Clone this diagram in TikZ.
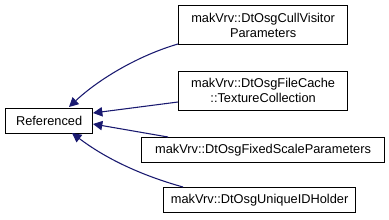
\documentclass[tikz,border=0pt]{standalone}
\usepackage{fontspec}
\setmainfont{Liberation Sans}
\usetikzlibrary{arrows.meta}
\definecolor{edgeblue}{HTML}{191970}
\begin{document}
\begin{tikzpicture}[x=0.75pt,y=-0.75pt,
  box/.style={draw=black,line width=0.9pt,fill=white,inner sep=0pt,align=center,font=\fontsize{9.6}{11.2}\selectfont},
  edge/.style={draw=edgeblue,line width=0.8pt,-{Triangle[length=7pt,width=7pt]}}]
\useasboundingbox (0,0) rectangle (389,219);
\fill[white] (0,0) rectangle (389,219);
\node[box,anchor=north west,minimum height=25*0.75pt,text width=87*0.75pt] (ref) at (5,107.5) {Referenced};
\node[box,anchor=north west,minimum height=39*0.75pt,text width=169*0.75pt] (a) at (178,5) {makVrv::DtOsgCullVisitor\\Parameters};
\node[box,anchor=north west,minimum height=39*0.75pt,text width=169*0.75pt] (b) at (178,70.5) {makVrv::DtOsgFileCache\\::TextureCollection};
\node[box,anchor=north west,minimum height=25*0.75pt,text width=243*0.75pt] (c) at (141,137) {makVrv::DtOsgFixedScaleParameters};
\node[box,anchor=north west,minimum height=25*0.75pt,text width=192*0.75pt] (d) at (163,187) {makVrv::DtOsgUniqueIDHolder};
\coordinate (a1) at (178,44);
\coordinate (b1) at (178,102);
\coordinate (c1) at (168,137);
\coordinate (d1) at (183,187);
\coordinate (r1) at (69,107);
\coordinate (r2) at (93,113);
\coordinate (r3) at (93,124);
\coordinate (r4) at (72,133);
\draw[edge] (a1) .. controls (140,55) and (100,78) .. (r1);
\draw[edge] (b1) -- (r2);
\draw[edge] (c1) -- (r3);
\draw[edge] (d1) .. controls (140,175) and (105,158) .. (r4);
\end{tikzpicture}
\end{document}
